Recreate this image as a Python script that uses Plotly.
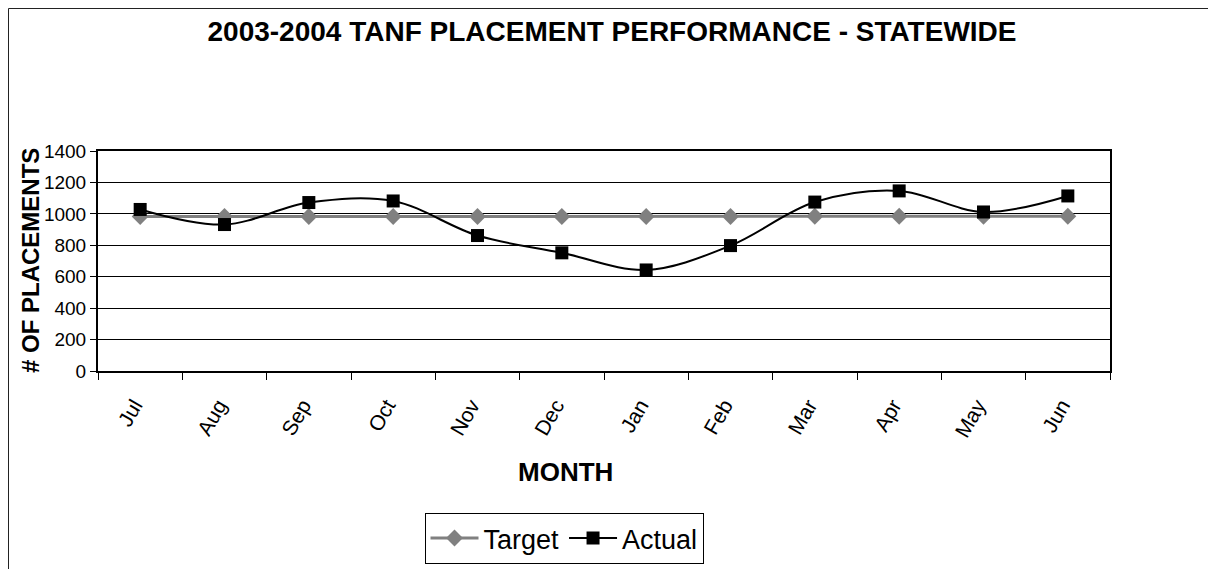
import plotly.graph_objects as go

months = ["Jul", "Aug", "Sep", "Oct", "Nov", "Dec", "Jan", "Feb", "Mar", "Apr", "May", "Jun"]
target = [983, 983, 983, 983, 983, 983, 983, 983, 985, 985, 985, 985]
actual = [1028, 932, 1072, 1082, 862, 752, 643, 798, 1075, 1146, 1012, 1114]

y_ticks = [0, 200, 400, 600, 800, 1000, 1200, 1400]

FONT = "Arial, Liberation Sans, sans-serif"

# page body adds an 8px offset; work in screen coordinates
OFF = 8
W, H = 1216, 569
PL, PR, PT, PB = 98, 1110, 151, 371  # plot area in screen pixels
L = PL - OFF
T = PT - OFF
R = W - (PR - OFF)
B = H - (PB - OFF)
pw = PR - PL
ph = PB - PT


def px2x(px):
    return (px - PL) / pw


def py2y(py):
    return (PB - py) / ph


fig = go.Figure()
fig.add_trace(go.Scatter(
    x=months, y=target, name="Target", mode="lines+markers",
    line=dict(color="#808080", width=3),
    marker=dict(symbol="diamond", size=13, color="#808080"),
))
fig.add_trace(go.Scatter(
    x=months, y=actual, name="Actual", mode="lines+markers",
    line=dict(color="black", width=2, shape="spline", smoothing=1.0),
    marker=dict(symbol="square", size=13, color="black"),
))

fig.update_layout(
    width=W, height=H,
    margin=dict(l=L, r=R, t=T, b=B),
    paper_bgcolor="white", plot_bgcolor="white",
    font=dict(family=FONT, color="black"),
    title=dict(
        text="<b>2003-2004 TANF PLACEMENT PERFORMANCE - STATEWIDE</b>",
        font=dict(size=28, family=FONT, color="black"),
        x=(612 - OFF) / W, xanchor="center", xref="container",
        y=1 - (31 - OFF) / H, yanchor="middle", yref="container",
    ),
    showlegend=True,
    legend=dict(
        orientation="h",
        x=px2x(564), xanchor="center",
        y=py2y(513), yanchor="top",
        bordercolor="black", borderwidth=1,
        font=dict(size=27, family=FONT, color="black"),
        itemwidth=48,
        traceorder="normal",
        bgcolor="white",
    ),
    xaxis=dict(
        type="category",
        range=[-0.5, len(months) - 0.5],
        showline=True, linecolor="black", linewidth=2, mirror=True,
        showgrid=False,
        ticks="outside", ticklen=7, tickcolor="black", tickwidth=1,
        tickson="boundaries",
        tickangle=-60,
        ticklabelstandoff=12,
        ticklabelshift=-6,
        tickfont=dict(size=21, family=FONT, color="black"),
    ),
    yaxis=dict(
        range=[0, 1400],
        tickvals=y_ticks,
        showline=True, linecolor="black", linewidth=2, mirror=True,
        showgrid=True, gridcolor="black", gridwidth=1,
        zeroline=False,
        ticks="outside", ticklen=6, tickcolor="black", tickwidth=1,
        tickfont=dict(size=19, family=FONT, color="black"),
    ),
    annotations=[
        dict(text="<b># OF PLACEMENTS</b>", textangle=-90,
             xref="paper", yref="paper", x=px2x(30), y=py2y(261),
             xanchor="center", yanchor="middle", showarrow=False,
             font=dict(size=24, family=FONT, color="black")),
        dict(text="<b>MONTH</b>",
             xref="paper", yref="paper", x=px2x(565), y=py2y(472),
             xanchor="center", yanchor="middle", showarrow=False,
             font=dict(size=26, family=FONT, color="black")),
    ],
    shapes=[
        dict(type="line", xref="paper", yref="paper",
             x0=px2x(8.5), x1=px2x(8.5), y0=py2y(8.5), y1=py2y(600),
             line=dict(color="#222222", width=1)),
        dict(type="line", xref="paper", yref="paper",
             x0=px2x(8.5), x1=px2x(1230), y0=py2y(8.5), y1=py2y(8.5),
             line=dict(color="#222222", width=1)),
    ],
)

fig.write_html("out.html")
